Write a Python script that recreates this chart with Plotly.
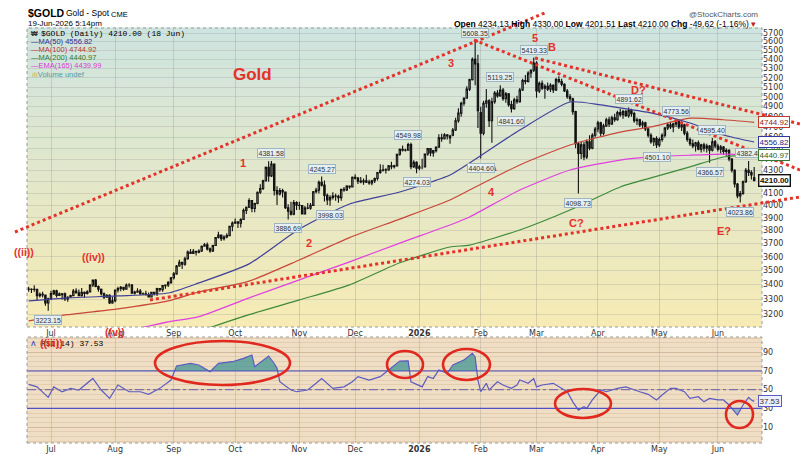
import numpy as np
import pandas as pd
import plotly.graph_objects as go

# ---------------- DATA ----------------
dates = pd.bdate_range("2025-06-19", "2026-06-18")

opens = [
    # Jun 2025
    3370, 3368, 3366, 3368, 3323, 3333, 3328, 3274,
    # Jul
    3303, 3338, 3357, 3326, 3331, 3336, 3301, 3313, 3324, 3355, 3343, 3324, 3347, 3339, 3350, 3397, 3432, 3387, 3368, 3337, 3314, 3326, 3274,
    # Aug
    3289, 3363, 3373, 3381, 3368, 3397, 3398, 3341, 3348, 3356, 3335, 3336, 3332, 3315, 3347, 3339, 3372, 3365, 3393, 3397, 3416,
    # Sep
    3448, 3476, 3533, 3560, 3545, 3586, 3636, 3625, 3641, 3634, 3643, 3679, 3690, 3659, 3644, 3685, 3746, 3764, 3736, 3749, 3760, 3833,
    # Oct
    3859, 3866, 3857, 3887, 3960, 3985, 4040, 3975, 4017, 4110, 4142, 4209, 4326, 4251, 4356, 4125, 4095, 4125, 4112, 3981, 3953, 3930, 4024,
    # Nov
    4002, 4000, 3932, 3980, 3977, 4001, 4115, 4128, 4195, 4171, 4084, 4045, 4066, 4078, 4077, 4065, 4135, 4130, 4163, 4156,
    # Dec
    4239, 4231, 4205, 4199, 4208, 4197, 4189, 4208, 4228, 4280, 4300, 4304, 4302, 4340, 4331, 4339, 4444, 4490, 4480, 4482, 4533, 4331, 4370,
    # Jan 2026
    4318, 4330, 4330, 4446, 4495, 4456, 4477, 4509, 4597, 4588, 4626, 4614, 4620, 4670, 4760, 4835, 4935, 4985, 5080, 5180, 5400, 5350,
    # Feb
    4840, 4640, 4935, 4960, 4760, 4950, 5040, 5010, 5070, 4980, 5030, 4920, 4880, 4970, 4950, 5070, 5170, 5160, 5250, 5280,
    # Mar
    5360, 5060, 5140, 5090, 5110, 5080, 5120, 5070, 5180, 5160, 5130, 5060, 5000, 4980, 4850, 4540, 4450, 4530, 4420, 4560, 4500, 4620,
    # Apr
    4680, 4740, 4640, 4710, 4770, 4730, 4790, 4770, 4840, 4820, 4850, 4810, 4860, 4830, 4760, 4770, 4720, 4740, 4680, 4620, 4560, 4590,
    # May
    4530, 4580, 4620, 4690, 4720, 4700, 4730, 4750, 4700, 4720, 4640, 4580, 4540, 4520, 4550, 4490, 4530, 4500, 4520, 4480, 4560,
    # Jun
    4520, 4490, 4510, 4470, 4480, 4400, 4300, 4180, 4080, 4100, 4200, 4300, 4280, 4234.13,
]
highs = [
    3385, 3375, 3395, 3370, 3345, 3350, 3330, 3310,
    3358, 3365, 3365, 3345, 3342, 3346, 3320, 3330, 3369, 3375, 3366, 3377, 3352, 3361, 3402, 3434, 3439, 3394, 3373, 3345, 3334, 3334, 3315,
    3363, 3385, 3390, 3385, 3408, 3409, 3404, 3358, 3375, 3370, 3345, 3358, 3345, 3350, 3351, 3378, 3376, 3393, 3398, 3423, 3454,
    3490, 3540, 3578, 3563, 3600, 3646, 3659, 3658, 3645, 3656, 3685, 3703, 3707, 3670, 3690, 3750, 3791, 3768, 3762, 3779, 3834, 3871,
    3895, 3875, 3897, 3975, 3991, 4059, 4045, 4022, 4116, 4179, 4218, 4333, 4380, 4381.58, 4360, 4162, 4147, 4140, 4112, 4010, 4030, 4046, 4034,
    4030, 4005, 3995, 4020, 4020, 4120, 4148, 4210, 4245.27, 4211, 4100, 4085, 4110, 4098, 4090, 4140, 4155, 4170, 4168, 4245,
    4264, 4240, 4240, 4228, 4260, 4218, 4218, 4237, 4285, 4353, 4350, 4318, 4346, 4375, 4350, 4447, 4497, 4525, 4495, 4549.98, 4550, 4390, 4380,
    4350, 4402, 4450, 4500, 4500, 4480, 4515, 4630, 4634, 4640, 4630, 4625, 4690, 4790, 4885, 4950, 4995, 5110, 5190, 5420, 5608.35, 5450,
    4900, 4960, 5080, 4975, 4990, 5060, 5070, 5119.25, 5090, 5050, 5040, 4960, 4990, 5010, 5090, 5190, 5230, 5270, 5290, 5419.33,
    5380, 5160, 5170, 5130, 5150, 5140, 5130, 5200, 5215, 5190, 5140, 5080, 5030, 4990, 4860, 4560, 4560, 4560, 4580, 4620, 4640, 4700,
    4760, 4750, 4730, 4790, 4800, 4810, 4830, 4860, 4880, 4870, 4870, 4891.62, 4880, 4850, 4790, 4780, 4760, 4750, 4690, 4640, 4600, 4610,
    4600, 4640, 4700, 4740, 4750, 4740, 4773.56, 4765, 4740, 4730, 4660, 4600, 4580, 4560, 4570, 4540, 4550, 4540, 4530, 4595.4, 4575,
    4540, 4530, 4520, 4500, 4490, 4410, 4310, 4190, 4120, 4210, 4320, 4382.4, 4300, 4330,
]
lows = [
    3350, 3342, 3350, 3295, 3312, 3312, 3255, 3223.15,
    3295, 3328, 3311, 3322, 3296, 3287, 3283, 3310, 3322, 3340, 3320, 3319, 3310, 3332, 3345, 3383, 3381, 3351, 3325, 3302, 3309, 3268, 3270,
    3280, 3346, 3355, 3358, 3365, 3380, 3340, 3332, 3345, 3331, 3330, 3323, 3312, 3311, 3325, 3321, 3350, 3351, 3371, 3384, 3405,
    3436, 3470, 3528, 3511, 3535, 3578, 3620, 3620, 3610, 3627, 3635, 3675, 3646, 3630, 3636, 3680, 3737, 3718, 3722, 3740, 3757, 3794,
    3850, 3820, 3823, 3884, 3931, 3980, 3945, 3945, 4010, 4095, 4130, 4200, 4200, 4240, 4082, 4004, 4082, 4066, 3971, 3886.69, 3918, 3920, 3964,
    3965, 3928, 3930, 3970, 3965, 3995, 4100, 4100, 4160, 4032, 4005, 3998.03, 4050, 4040, 4022, 4040, 4115, 4120, 4140, 4150,
    4220, 4180, 4186, 4175, 4190, 4175, 4170, 4190, 4210, 4270, 4290, 4272, 4295, 4310, 4315, 4336, 4430, 4470, 4470, 4480, 4310, 4320, 4274.03,
    4300, 4310, 4325, 4430, 4425, 4420, 4460, 4505, 4560, 4580, 4580, 4540, 4610, 4660, 4740, 4800, 4910, 4980, 5060, 5170, 5120, 4690,
    4404.6, 4620, 4890, 4700, 4550, 4930, 4990, 5000, 4960, 4940, 4900, 4841.6, 4870, 4930, 4940, 5060, 5130, 5150, 5200, 5260,
    4990, 5040, 5070, 4980, 5060, 5050, 5040, 5060, 5140, 5110, 5050, 4980, 4950, 4820, 4500, 4098.73, 4400, 4390, 4400, 4480, 4490, 4600,
    4650, 4610, 4620, 4700, 4700, 4720, 4750, 4760, 4800, 4780, 4800, 4790, 4800, 4740, 4720, 4700, 4680, 4660, 4600, 4540, 4520, 4501.1,
    4510, 4560, 4600, 4670, 4680, 4650, 4700, 4680, 4660, 4620, 4560, 4520, 4500, 4470, 4480, 4460, 4470, 4460, 4366.57, 4470, 4500,
    4470, 4450, 4440, 4430, 4380, 4280, 4150, 4060, 4023.86, 4090, 4190, 4250, 4220, 4201.51,
]
closes = [
    3368, 3366, 3368, 3323, 3333, 3328, 3274, 3303,
    3338, 3357, 3326, 3336, 3336, 3301, 3313, 3324, 3355, 3343, 3324, 3347, 3339, 3350, 3397, 3432, 3387, 3368, 3337, 3314, 3326, 3274, 3289,
    3363, 3373, 3381, 3368, 3397, 3398, 3341, 3348, 3356, 3335, 3336, 3332, 3315, 3347, 3339, 3372, 3365, 3393, 3397, 3416, 3448,
    3476, 3533, 3560, 3545, 3586, 3636, 3625, 3641, 3634, 3643, 3679, 3690, 3659, 3644, 3685, 3746, 3764, 3736, 3749, 3760, 3833, 3859,
    3866, 3857, 3887, 3960, 3985, 4040, 3975, 4017, 4110, 4142, 4209, 4326, 4251, 4356, 4125, 4095, 4125, 4112, 3981, 3953, 3930, 4024, 4002,
    4000, 3932, 3980, 3977, 4001, 4115, 4128, 4195, 4171, 4084, 4045, 4066, 4078, 4077, 4065, 4135, 4130, 4163, 4156, 4239,
    4231, 4205, 4199, 4208, 4197, 4189, 4208, 4228, 4280, 4300, 4304, 4302, 4340, 4331, 4339, 4444, 4490, 4480, 4482, 4533, 4331, 4370, 4318,
    4330, 4330, 4446, 4495, 4456, 4477, 4509, 4597, 4588, 4626, 4614, 4596, 4670, 4760, 4835, 4935, 4985, 5080, 5180, 5400, 5350, 4860,
    4640, 4935, 4960, 4760, 4950, 5040, 5010, 5070, 4980, 5030, 4920, 4880, 4970, 4950, 5070, 5170, 5160, 5250, 5280, 5360,
    5060, 5140, 5090, 5110, 5080, 5120, 5070, 5180, 5160, 5130, 5060, 5000, 4980, 4850, 4540, 4450, 4530, 4420, 4560, 4500, 4620, 4680,
    4740, 4640, 4710, 4770, 4730, 4790, 4770, 4840, 4820, 4850, 4810, 4860, 4830, 4760, 4770, 4720, 4740, 4680, 4620, 4560, 4590, 4530,
    4580, 4620, 4690, 4720, 4700, 4730, 4750, 4700, 4720, 4640, 4580, 4540, 4520, 4550, 4490, 4530, 4500, 4520, 4480, 4560, 4520,
    4490, 4510, 4470, 4480, 4400, 4300, 4180, 4080, 4100, 4200, 4300, 4280, 4259.62, 4210,
]

# moving averages (sampled along the line, trading-day index)
ma50_idx = [0, 14, 32, 50, 61, 79, 97, 115, 133, 151, 158, 176, 194, 205, 212, 223, 237, 249, 260]
ma50_val = [3288, 3309, 3322, 3342, 3412, 3548, 3811, 4012, 4112, 4259, 4365, 4670, 4947, 4917, 4887, 4837, 4738, 4623, 4556.82]
ma100_idx = [0, 14, 32, 50, 61, 79, 97, 115, 133, 151, 158, 176, 194, 212, 223, 237, 249, 260]
ma100_val = [3156, 3197, 3235, 3288, 3349, 3425, 3577, 3745, 3890, 4045, 4129, 4347, 4529, 4651, 4700, 4785, 4770, 4744.92]
ma200_idx = [62, 79, 97, 115, 133, 151, 158, 176, 194, 212, 223, 237, 249, 260]
ma200_val = [3095, 3197, 3295, 3398, 3556, 3673, 3688, 3804, 3963, 4155, 4233, 4330, 4419, 4440.97]
ema165_idx = [36, 50, 61, 79, 97, 115, 133, 151, 158, 176, 194, 212, 223, 237, 249, 260]
ema165_val = [3095, 3150, 3184, 3309, 3433, 3563, 3703, 3843, 3907, 4129, 4302, 4391, 4419, 4435, 4445, 4439.99]

# RSI(14) samples
rsi_idx = [0, 3, 7, 9, 12, 15, 18, 23, 26, 29, 32, 36, 40, 43, 47, 51, 53, 58, 61, 65,
           68, 73, 77, 80, 81, 85, 86, 88, 89, 90, 94, 96, 100, 103, 105, 109, 113, 116, 118, 122,
           126, 129, 133, 136, 137, 141, 143, 145, 147, 150, 152, 156, 159, 160, 161, 162, 164, 165, 168, 170,
           173, 175, 176, 179, 181, 182, 184, 188, 190, 193, 195, 197, 199, 200, 202, 205, 207, 211, 214, 217,
           219, 222, 225, 227, 230, 232, 235, 237, 240, 242, 244, 247, 249, 251, 252, 254, 256, 258, 259, 260]
rsi_val = [55.7, 53, 41.8, 53, 47.8, 51.4, 49.6, 62, 49.6, 40.7, 55, 47.8, 47.8, 45, 51.4, 60.3, 75.3, 78.2, 76.4, 69.2,
           78.2, 79.9, 83.5, 87, 74.6, 83.5, 86, 78, 72.8, 58.5, 49.6, 47.8, 49.6, 56.8, 62, 51.4, 53, 58.5, 63.9, 60.3,
           63.9, 71, 80.5, 80.8, 58.5, 53, 64, 62, 71, 67.5, 76.4, 81.7, 88.9, 85, 60.3, 47.8, 56.8, 49.6, 58.5, 55,
           51.4, 55, 60.3, 56.8, 62, 53, 55, 56.8, 53, 47.8, 37, 28.2, 31.8, 30, 39, 49.6, 47.8, 51.4, 53, 49.6,
           47.8, 45, 39, 44.3, 51.4, 51.4, 47.8, 40.7, 42.5, 37, 40.7, 39, 39, 33.6, 30, 22.9, 33.6, 41.8, 39, 37.53]

# labelled highs / lows
lab_idx = [7, 87, 93, 105, 108, 136, 139, 160, 162, 169, 173, 181, 197, 215, 225, 232, 244, 245, 258, 255]
lab_val = [3223.15, 4381.58, 3886.69, 4245.27, 3998.03, 4549.98, 4274.03, 5608.35, 4404.60, 5119.25,
           4841.60, 5419.33, 4098.73, 4891.62, 4501.10, 4773.56, 4366.57, 4595.40, 4382.40, 4023.86]
lab_pos = ["b", "a", "b", "a", "b", "a", "b", "a", "b", "a",
           "b", "a", "b", "a", "b", "a", "b", "a", "a", "b"]

price_ticks = list(range(3200, 5800, 100))
rsi_ticks = [10, 30, 50, 70, 90]

# ---------------- LAYOUT GEOMETRY ----------------
W, H = 800, 455
ML, MR, MT, MB = 27, 38, 28, 12
PW, PH = W - ML - MR, H - MT - MB


def px(x):
    return (x - ML) / PW


def py(y):
    return (H - MB - y) / PH


PRICE_DOM = [py(327), 1.0]
RSI_DOM = [0.0, py(337)]

n = min(len(dates), len(closes))
dates = dates[:n]
xi = list(range(n))

month_pos, month_txt = [], []
for i in range(1, n):
    if dates[i].month != dates[i - 1].month:
        month_pos.append(i)
        month_txt.append("<b>%d</b>" % dates[i].year if dates[i].month == 1 else dates[i].strftime("%b"))

fig = go.Figure()

fig.add_trace(go.Candlestick(
    x=xi, open=opens[:n], high=highs[:n], low=lows[:n], close=closes[:n],
    text=[d.strftime("%d %b %Y") for d in dates],
    increasing=dict(line=dict(color="#111", width=1.1), fillcolor="rgba(255,255,255,0.35)"),
    decreasing=dict(line=dict(color="#111", width=1.1), fillcolor="#111"),
    whiskerwidth=0, showlegend=False, xaxis="x", yaxis="y"))

for xs_, ys_, col in [(ema165_idx, ema165_val, "#e040e0"), (ma200_idx, ma200_val, "#3f8a3a"),
                      (ma100_idx, ma100_val, "#c8473a"), (ma50_idx, ma50_val, "#40409a")]:
    fig.add_trace(go.Scatter(x=xs_, y=ys_, mode="lines", line=dict(color=col, width=1.2, shape="spline", smoothing=0.6),
                             showlegend=False, hoverinfo="skip", xaxis="x", yaxis="y"))

# RSI fills
fx = np.linspace(0, rsi_idx[-1], 2601)
fr = np.interp(fx, rsi_idx, rsi_val)
fig.add_trace(go.Scatter(x=fx, y=np.full_like(fx, 70.0), mode="lines", line=dict(width=0),
                         showlegend=False, hoverinfo="skip", xaxis="x2", yaxis="y2"))
fig.add_trace(go.Scatter(x=fx, y=np.maximum(fr, 70), mode="lines", line=dict(width=0), fill="tonexty",
                         fillcolor="rgba(70,152,150,0.78)", showlegend=False, hoverinfo="skip",
                         xaxis="x2", yaxis="y2"))
fig.add_trace(go.Scatter(x=fx, y=np.full_like(fx, 30.0), mode="lines", line=dict(width=0),
                         showlegend=False, hoverinfo="skip", xaxis="x2", yaxis="y2"))
fig.add_trace(go.Scatter(x=fx, y=np.minimum(fr, 30), mode="lines", line=dict(width=0), fill="tonexty",
                         fillcolor="rgba(95,140,200,0.6)", showlegend=False, hoverinfo="skip",
                         xaxis="x2", yaxis="y2"))
fig.add_trace(go.Scatter(x=rsi_idx, y=rsi_val, mode="lines", line=dict(color="#5b5bc0", width=1.2),
                         showlegend=False, hoverinfo="skip", xaxis="x2", yaxis="y2"))

shapes = []
# gradient background in the price panel
top_c, bot_c = (206, 228, 224), (246, 235, 180)
NB = 40
for k in range(NB):
    t = (k + 0.5) / NB
    c = tuple(int(round(bot_c[j] + (top_c[j] - bot_c[j]) * t)) for j in range(3))
    y0 = PRICE_DOM[0] + (PRICE_DOM[1] - PRICE_DOM[0]) * k / NB
    y1 = PRICE_DOM[0] + (PRICE_DOM[1] - PRICE_DOM[0]) * (k + 1) / NB
    shapes.append(dict(type="rect", xref="paper", yref="paper", x0=0, x1=1, y0=y0, y1=y1 + 0.001,
                       fillcolor="rgb(%d,%d,%d)" % c, line=dict(width=0), layer="below"))

# RSI reference lines
for lvl, dash, col in [(70, "solid", "#5050c4"), (30, "solid", "#5050c4"), (50, "dashdot", "#7c70a8")]:
    shapes.append(dict(type="line", xref="paper", yref="y2", x0=0, x1=1, y0=lvl, y1=lvl,
                       line=dict(color=col, width=1.1, dash=dash), layer="above"))

# panel borders
for dom in (PRICE_DOM, RSI_DOM):
    shapes.append(dict(type="rect", xref="paper", yref="paper", x0=0, x1=1, y0=dom[0], y1=dom[1],
                       line=dict(color="#9a9a9a", width=1, dash="dot"), layer="above"))

# hand-drawn red trend lines
RED = "#e4322a"
for (a, b, c, d) in [(15, 232, 547, 12), (150, 300, 800, 197), (474, 40, 800, 170), (535, 58, 800, 124)]:
    shapes.append(dict(type="line", xref="paper", yref="paper", x0=px(a), y0=py(b), x1=px(c), y1=py(d),
                       line=dict(color=RED, width=3, dash="3px,3px"), layer="above"))

# red ellipses on RSI
for (a, b, c, d) in [(155, 341, 290, 385), (387, 351, 423, 378), (443, 349, 490, 380),
                     (555, 389, 611, 418), (726, 401, 753, 428)]:
    shapes.append(dict(type="circle", xref="paper", yref="paper", x0=px(a), x1=px(c), y0=py(d), y1=py(b),
                       line=dict(color="#e0281e", width=2.6), layer="above"))

ann = []
SANS = "Liberation Sans, Arial, sans-serif"
MONO = "Liberation Mono, DejaVu Sans Mono, monospace"


def txt(x, y, s, size=8, color="#000", family=SANS, xanchor="left", **kw):
    ann.append(dict(xref="paper", yref="paper", x=px(x), y=py(y), text=s, showarrow=False,
                    xanchor=xanchor, yanchor="middle", font=dict(size=size, color=color, family=family), **kw))


# header
txt(26, 13.5, "<b>$GOLD</b>", size=10.5)
txt(64, 13.5, "Gold - Spot", size=8.5)
txt(109, 14, "CME", size=7.5)
txt(26, 24, "19-Jun-2026 5:14pm", size=8)
txt(760, 14, "@StockCharts.com", size=8, color="#555", xanchor="right")
txt(758, 24, "<b>Open</b> 4234.13 <b>High</b> 4330.00 <b>Low</b> 4201.51 <b>Last</b> 4210.00 "
    "<b>Chg</b> -49.62 (-1.16%) <span style='color:#c82020'>▾</span>", size=8.5, xanchor="right")

# in-panel legend
txt(29, 33.5, "<b>₩</b>", size=7, color="#333")
txt(39, 33.5, "$GOLD (Daily) 4210.00 (18 Jun)", size=8, family=MONO)
for y, s, col in [(41.7, "MA(50) 4556.82", "#2d2d8c"), (49.5, "MA(100) 4744.92", "#b83a2c"),
                  (57.5, "MA(200) 4440.97", "#2f7a2f"), (65.8, "EMA(165) 4439.99", "#d63ad6")]:
    txt(29, y, "—" + s, size=7.5, color=col)
txt(30, 74, "<span style='color:#c8b060'>ılı</span>Volume undef", size=7.5, color="#5a9aa0")
txt(29, 343, "<b>Λ</b>", size=7, color="#4a4ab8")
txt(39, 343, "RSI(14) 37.53", size=8, family=MONO)

# red wave annotations
wave = [("Gold", 252, 74, 17), ("1", 242.7, 162.7, 11), ("2", 309, 242.7, 11), ("3", 450.7, 63.3, 11),
        ("4", 491.7, 192.3, 11), ("A", 492.7, 166.7, 11), ("5", 535, 38.3, 11), ("B", 552.3, 46.7, 11),
        ("C?", 576.7, 222.7, 11), ("D?", 638.3, 90, 11), ("E?", 724.3, 231, 11), ("((ii))", 24.3, 251.7, 10.5),
        ("((iv))", 93.7, 256.7, 10.5), ("((v))", 115, 332.3, 10.5), ("((iii))", 51.7, 342.7, 10.5)]
for s, x, y, sz in wave:
    txt(x, y, "<b>%s</b>" % s, size=sz, color=RED, xanchor="center")

# high/low value labels on candles
for i, v, p in zip(lab_idx, lab_val, lab_pos):
    ann.append(dict(xref="x", yref="y", x=i, y=np.log10(v), text="%.2f" % v, showarrow=False,
                    xanchor="center", yanchor="bottom" if p == "a" else "top",
                    yshift=3 if p == "a" else -4, bgcolor="#e6eff2", bordercolor="#9fb6c2",
                    borderwidth=1, borderpad=0.5, font=dict(size=7, color="#333", family=SANS)))

# right-side value boxes
for v, col, tcol, bold in [(4744.92, "#c0392b", "#8a2a20", False), (4556.82, "#3535a0", "#2a2a80", False),
                           (4440.97, "#2f7a2f", "#245e24", False), (4210.00, "#111", "#111", True)]:
    ann.append(dict(xref="paper", yref="y", x=1, xshift=-4, y=np.log10(v),
                    text=("<b>%.2f</b>" if bold else "%.2f") % v, showarrow=False, xanchor="left",
                    yanchor="middle", bgcolor="#ffffff", bordercolor=col, borderwidth=1.4 if bold else 1,
                    borderpad=0.5, font=dict(size=8, color=tcol, family=SANS)))
ann.append(dict(xref="paper", yref="y2", x=1, xshift=-4, y=rsi_val[-1], text="%.2f" % rsi_val[-1],
                showarrow=False, xanchor="left", yanchor="middle", bgcolor="#eef0ff", bordercolor="#5a5ac8",
                borderwidth=1, borderpad=0.5, font=dict(size=8, color="#333", family=SANS)))

xcommon = dict(range=[-0.6, 262.8], tickmode="array", tickvals=month_pos, ticktext=month_txt,
               showgrid=True, gridcolor="rgba(150,150,150,0.33)", gridwidth=1, zeroline=False, automargin=False,
               ticks="", tickfont=dict(size=8, color="#333", family="DejaVu Sans"), showline=False)

fig.update_layout(
    width=W, height=H, margin=dict(l=ML, r=MR, t=MT, b=MB, autoexpand=False),
    paper_bgcolor="#ffffff", plot_bgcolor="rgb(240,222,196)", showlegend=False,
    xaxis=dict(domain=[0, 1], anchor="y", rangeslider=dict(visible=False), **xcommon),
    xaxis2=dict(domain=[0, 1], anchor="y2", matches="x", **xcommon),
    yaxis=dict(type="log", domain=PRICE_DOM, anchor="x", side="right", automargin=False,
               range=[np.log10(3116.8), np.log10(5758.8)], tickmode="array", tickvals=price_ticks,
               ticktext=[str(t) for t in price_ticks], showgrid=True, gridcolor="rgba(150,150,150,0.28)",
               zeroline=False, ticks="", tickfont=dict(size=8, color="#333", family="DejaVu Sans")),
    yaxis2=dict(domain=RSI_DOM, anchor="x2", side="right", range=[-7.0, 106.3], tickmode="array",
                automargin=False,
                tickvals=rsi_ticks, showgrid=True, gridcolor="rgba(190,160,130,0.45)", zeroline=False,
                minor=dict(tickmode="linear", tick0=0, dtick=5, showgrid=True, gridcolor="rgba(200,175,150,0.35)"),
                ticks="", tickfont=dict(size=8, color="#333", family="DejaVu Sans")),
    shapes=shapes, annotations=ann,
)

fig.write_html("out.html", config={"displayModeBar": False},
               post_script="document.body.style.margin='0px';document.body.style.overflow='hidden';")
